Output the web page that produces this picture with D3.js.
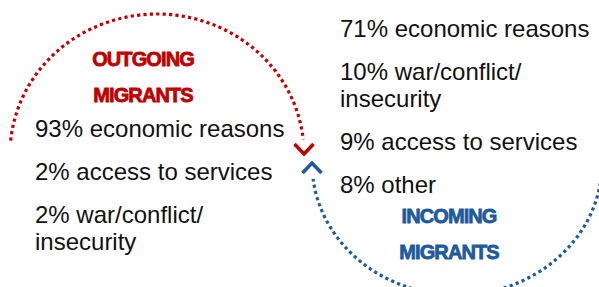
<!DOCTYPE html>
<html>
<head>
<meta charset="utf-8">
<script src="https://cdn.jsdelivr.net/npm/d3@7"></script>
<style>
    html, body { margin: 0; padding: 0; background: #fff; }
    svg { display: block; }
</style>
</head>
<body>
<div id="chart"></div>
<script>
'use strict';

// outgoing migrants: share (%) and reason, wrapped lines
var outgoingShares = [93, 2, 2];
var outgoingReasons = [['economic reasons'], ['access to services'], ['war/conflict/', 'insecurity']];
var outgoingTitle = ['OUTGOING', 'MIGRANTS'];

// incoming migrants
var incomingShares = [71, 10, 9, 8];
var incomingReasons = [['economic reasons'], ['war/conflict/', 'insecurity'], ['access to services'], ['other']];
var incomingTitle = ['INCOMING', 'MIGRANTS'];

var width = 599,
    height = 287,
    red = '#c00000',
    blue = '#1f5a9b',
    itemGap = 43,
    wrapGap = 27;

var svg = d3.select('#chart')
    .append('svg')
    .attr('width', width)
    .attr('height', height);

function ellipsePoint(e, t) {
    return [e.cx + e.rx * Math.cos(t), e.cy + e.ry * Math.sin(t)];
}

function dottedArc(e, fromDeg, toDeg, arrowDeg, color) {
    var angle = d3.scaleLinear().domain([0, 1]).range([fromDeg, toDeg].map(function (d) { return d * Math.PI / 180; })),
        line = d3.line().curve(d3.curveCatmullRom),
        pts = d3.range(0, 1.0001, 0.01).map(function (k) { return ellipsePoint(e, angle(k)); }),
        t = arrowDeg * Math.PI / 180,
        tip = ellipsePoint(e, t),
        dir = [-e.rx * Math.sin(t), e.ry * Math.cos(t)],
        len = Math.sqrt(dir[0] * dir[0] + dir[1] * dir[1]),
        ux = dir[0] / len,
        uy = dir[1] / len,
        back = 10,
        side = 9.5;

    svg.append('path')
        .attr('d', line(pts))
        .attr('fill', 'none')
        .attr('stroke', color)
        .attr('stroke-width', 3.2)
        .attr('stroke-dasharray', '3.2,3.2');

    svg.append('path')
        .attr('d', d3.line()([
            [tip[0] - ux * back - uy * side, tip[1] - uy * back + ux * side],
            tip,
            [tip[0] - ux * back + uy * side, tip[1] - uy * back - ux * side]
        ]))
        .attr('fill', 'none')
        .attr('stroke', color)
        .attr('stroke-width', 3.5)
        .attr('stroke-linejoin', 'miter');
}

function reasonList(shares, reasons, x, y0) {
    var rows = [],
        y = y0;

    shares.forEach(function (s, i) {
        reasons[i].forEach(function (r, j) {
            rows.push({ text: j === 0 ? s + '% ' + r : r, y: y });
            y += wrapGap;
        });
        y += itemGap - wrapGap;
    });

    svg.append('g')
        .selectAll('text')
        .data(rows)
        .enter()
        .append('text')
        .attr('x', x)
        .attr('y', function (d) { return d.y; })
        .attr('fill', '#111')
        .style('font-family', '"Liberation Sans", Arial, sans-serif')
        .style('font-size', '24px')
        .text(function (d) { return d.text; });
}

function title(lines, x, y0, color) {
    svg.append('g')
        .selectAll('text')
        .data(lines)
        .enter()
        .append('text')
        .attr('x', x)
        .attr('y', function (d, i) { return y0 + i * 36; })
        .attr('text-anchor', 'middle')
        .attr('fill', color)
        .attr('stroke', color)
        .attr('stroke-width', 0.8)
        .style('font-family', '"Liberation Sans", Arial, sans-serif')
        .style('font-weight', 'bold')
        .style('font-size', '20px')
        .style('letter-spacing', '-0.9px')
        .text(function (d) { return d; });
}

dottedArc({ cx: 157, cy: 154, rx: 147, ry: 140 }, 185.5, 354, 360, red);
dottedArc({ cx: 457, cy: 163, rx: 145, ry: 132 }, -8, 173, 180, blue);

title(outgoingTitle, 143, 66, red);
title(incomingTitle, 449, 223, blue);

reasonList(outgoingShares, outgoingReasons, 35, 137);
reasonList(incomingShares, incomingReasons, 340, 37);
</script>
</body>
</html>
